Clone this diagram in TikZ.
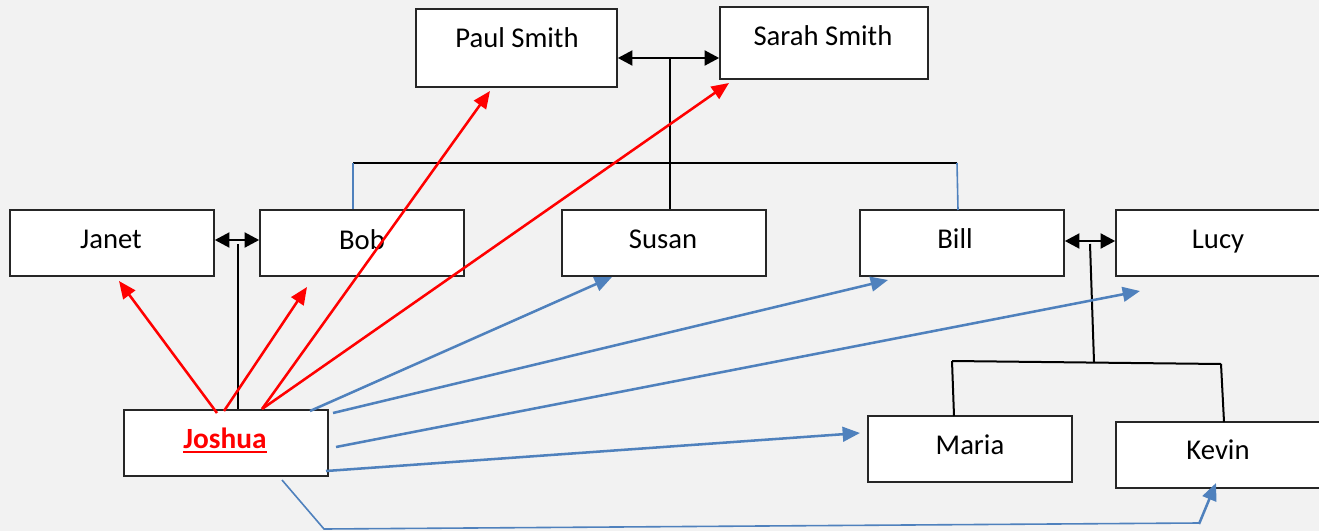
\documentclass[tikz,border=0pt]{standalone}
\usepackage{fontspec}
\setmainfont{Carlito}
\usetikzlibrary{arrows.meta}
\definecolor{bg}{HTML}{F2F2F2}
\definecolor{lblue}{HTML}{4F81BD}
\begin{document}
\begin{tikzpicture}[x=0.75pt,y=-0.75pt,
  box/.style={draw=black!85, line width=1.1pt, fill=white, rectangle, inner sep=0pt, minimum width=153pt, minimum height=49.5pt},
  lbl/.style={font=\fontsize{21.5}{24}\selectfont, anchor=base, inner sep=0pt},
  kin/.style={black, line width=1.5pt},
  couple/.style={black, line width=2.2pt, {Triangle[length=11pt,width=11pt]}-{Triangle[length=11pt,width=11pt]}},
  redarr/.style={red, line width=1.9pt, -{Triangle[length=13pt,width=11pt]}},
  bluearr/.style={lblue, line width=1.9pt, -{Triangle[length=13pt,width=11pt]}},
  bluethin/.style={lblue, line width=1.2pt}]
\useasboundingbox (0,0) rectangle (1319,531);
\clip (0,0) rectangle (1319,531);
\fill[bg] (0,0) rectangle (1319,531);

% boxes
\node[box, minimum width=150.75pt, minimum height=58.5pt] (paul) at (516.5,48) {};
\node[box, minimum width=156pt, minimum height=54pt] (sarah) at (824,43) {};
\node[box] (janet) at (112,243) {};
\node[box] (bob) at (362,243) {};
\node[box] (susan) at (664,243) {};
\node[box] (bill) at (962,243) {};
\node[box] (lucy) at (1218,243) {};
\node[box] (joshua) at (226,443) {};
\node[box] (maria) at (970,449) {};
\node[box] (kevin) at (1218,455) {};

% labels
\node[lbl] (paultxt) at (517,48) {Paul Smith};
\node[lbl] (sarahtxt) at (823,46) {Sarah Smith};
\node[lbl] (janettxt) at (111,248) {Janet};
\node[lbl] (bobtxt) at (362,249) {Bob};
\node[lbl] (susantxt) at (663,248) {Susan};
\node[lbl] (billtxt) at (955,248) {Bill};
\node[lbl] (lucytxt) at (1218,248) {Lucy};
\node[lbl, text=red, font=\fontsize{22}{24}\selectfont\bfseries] (joshtxt) at (225,448) {Joshua};
\draw[red, line width=1.6pt] (joshtxt.base west) ++(0,4) -- ([yshift=-3pt]joshtxt.base east);
\node[lbl] (mariatxt) at (970,454) {Maria};
\node[lbl] (kevintxt) at (1218,459) {Kevin};

% family lines
\coordinate (ps) at (670,58);
\coordinate (psbar) at (670,163);
\coordinate (barL) at (353,163);
\coordinate (barR) at (957,163);
\draw[couple] (paul.east |- ps) -- (sarah.west |- ps);
\draw[kin] (ps) -- (susan.north -| ps);
\draw[kin] (barL) -- (barR);
\draw[bluethin] (barL) -- (bob.north -| barL);
\draw[bluethin] (barR) -- (958,210);

\coordinate (jb) at (238,240);
\draw[couple] (janet.east |- jb) -- (bob.west |- jb);
\draw[kin] (238,244) -- (joshua.north -| jb);

\coordinate (bl) at (1090,241);
\draw[couple] (bill.east |- bl) -- (lucy.west |- bl);
\coordinate (blmid) at (1094,362);
\coordinate (mk1) at (952,361);
\coordinate (mk2) at (1221,364);
\draw[kin] (1090,244) -- (blmid);
\draw[kin] (mk1) -- (mk2);
\draw[kin] (mk1) -- (954,416);
\draw[kin] (mk2) -- (1224,422);

% Joshua red arrows
\coordinate (r1) at (217,413);
\coordinate (r2) at (224,411);
\coordinate (r3) at (262,409);
\draw[redarr] (r1) -- (119,281);
\draw[redarr] (r2) -- (307,287);
\draw[redarr] (r3) -- (490,91);
\draw[redarr] (r3) -- (729,83);

% Joshua blue arrows
\draw[bluearr] (310,411) -- (612,277);
\draw[bluearr] (333,413) -- (888,280);
\draw[bluearr] (336,447) -- (1140,291);
\draw[bluearr] (326,471) -- (860,433);
\draw[bluethin] (282,480) -- (324,529) -- (1199,523);
\draw[bluearr] (1199,524) -- (1216,483);
\end{tikzpicture}
\end{document}
